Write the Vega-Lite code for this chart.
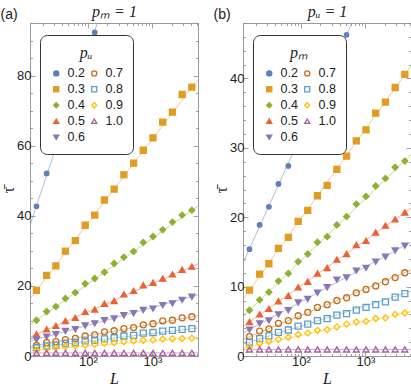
{
"$schema": "https://vega.github.io/schema/vega-lite/v6.json",
"background": "white",
"padding": {"left": 0, "top": 3, "right": 0, "bottom": 2},
"config": {
 "view": {"stroke": "#9a9a9a", "strokeWidth": 1},
 "axis": {"domain": false, "grid": false, "labelFont": "Liberation Sans", "labelFontSize": 13, "labelColor": "#222", "tickColor": "#8a8a8a", "tickWidth": 0.8, "titleFont": "Liberation Serif", "titleFontStyle": "italic", "titleFontWeight": "normal", "titleFontSize": 16, "titleColor": "#222"},
 "legend": {"orient": "none", "legendX": 10, "legendY": 12, "columns": 2, "fillColor": "white", "strokeColor": "#333", "cornerRadius": 7, "padding": 10, "titleFont": "Liberation Serif", "titleFontStyle": "italic", "titleFontSize": 16, "titleFontWeight": "normal", "titleAnchor": "middle", "titlePadding": 6, "titleColor": "#222", "labelFont": "Liberation Sans", "labelFontSize": 12.5, "labelColor": "#222", "symbolSize": 26, "symbolStrokeWidth": 1.3, "rowPadding": 3, "columnPadding": 3, "labelOffset": 5},
 "title": {"font": "Liberation Sans", "fontSize": 14, "fontWeight": "normal", "anchor": "start", "frame": "bounds", "color": "#222"}
},
"datasets": {
 "a": [
  {"s":"0.2","L":16,"t":42.7},{"s":"0.2","L":23,"t":52.1},{"s":"0.2","L":32,"t":60.5},{"s":"0.2","L":45,"t":68.5},{"s":"0.2","L":64,"t":76.5},{"s":"0.2","L":91,"t":84.5},{"s":"0.2","L":128,"t":92.3},
  {"s":"0.3","L":16,"t":18.7},{"s":"0.3","L":23,"t":23.0},{"s":"0.3","L":32,"t":25.7},{"s":"0.3","L":45,"t":29.9},{"s":"0.3","L":64,"t":32.9},{"s":"0.3","L":91,"t":37.3},{"s":"0.3","L":128,"t":40.2},{"s":"0.3","L":181,"t":44.5},{"s":"0.3","L":256,"t":47.6},{"s":"0.3","L":362,"t":51.7},{"s":"0.3","L":512,"t":55.0},{"s":"0.3","L":724,"t":58.7},{"s":"0.3","L":1024,"t":62.2},{"s":"0.3","L":1448,"t":66.7},{"s":"0.3","L":2048,"t":69.6},{"s":"0.3","L":2896,"t":74.6},{"s":"0.3","L":4096,"t":76.7},
  {"s":"0.4","L":16,"t":10.2},{"s":"0.4","L":23,"t":12.7},{"s":"0.4","L":32,"t":14.1},{"s":"0.4","L":45,"t":16.4},{"s":"0.4","L":64,"t":18.1},{"s":"0.4","L":91,"t":20.6},{"s":"0.4","L":128,"t":22.1},{"s":"0.4","L":181,"t":23.9},{"s":"0.4","L":256,"t":26.4},{"s":"0.4","L":362,"t":28.2},{"s":"0.4","L":512,"t":29.8},{"s":"0.4","L":724,"t":32.4},{"s":"0.4","L":1024,"t":34.1},{"s":"0.4","L":1448,"t":36.0},{"s":"0.4","L":2048,"t":38.2},{"s":"0.4","L":2896,"t":40.2},{"s":"0.4","L":4096,"t":41.6},
  {"s":"0.5","L":16,"t":6.2},{"s":"0.5","L":23,"t":7.6},{"s":"0.5","L":32,"t":8.6},{"s":"0.5","L":45,"t":10.0},{"s":"0.5","L":64,"t":10.9},{"s":"0.5","L":91,"t":12.6},{"s":"0.5","L":128,"t":13.3},{"s":"0.5","L":181,"t":14.9},{"s":"0.5","L":256,"t":15.7},{"s":"0.5","L":362,"t":17.6},{"s":"0.5","L":512,"t":18.6},{"s":"0.5","L":724,"t":20.2},{"s":"0.5","L":1024,"t":20.9},{"s":"0.5","L":1448,"t":22.1},{"s":"0.5","L":2048,"t":23.3},{"s":"0.5","L":2896,"t":24.6},{"s":"0.5","L":4096,"t":25.5},
  {"s":"0.6","L":16,"t":4.7},{"s":"0.6","L":23,"t":5.5},{"s":"0.6","L":32,"t":6.2},{"s":"0.6","L":45,"t":7.1},{"s":"0.6","L":64,"t":7.6},{"s":"0.6","L":91,"t":8.7},{"s":"0.6","L":128,"t":9.3},{"s":"0.6","L":181,"t":10.2},{"s":"0.6","L":256,"t":10.7},{"s":"0.6","L":362,"t":11.6},{"s":"0.6","L":512,"t":12.2},{"s":"0.6","L":724,"t":13.1},{"s":"0.6","L":1024,"t":13.5},{"s":"0.6","L":1448,"t":14.5},{"s":"0.6","L":2048,"t":15.0},{"s":"0.6","L":2896,"t":16.0},{"s":"0.6","L":4096,"t":16.9},
  {"s":"0.7","L":16,"t":3.0},{"s":"0.7","L":23,"t":3.8},{"s":"0.7","L":32,"t":4.1},{"s":"0.7","L":45,"t":4.7},{"s":"0.7","L":64,"t":5.0},{"s":"0.7","L":91,"t":5.7},{"s":"0.7","L":128,"t":6.0},{"s":"0.7","L":181,"t":6.9},{"s":"0.7","L":256,"t":7.2},{"s":"0.7","L":362,"t":7.8},{"s":"0.7","L":512,"t":8.1},{"s":"0.7","L":724,"t":8.9},{"s":"0.7","L":1024,"t":9.2},{"s":"0.7","L":1448,"t":10.0},{"s":"0.7","L":2048,"t":10.2},{"s":"0.7","L":2896,"t":10.9},{"s":"0.7","L":4096,"t":11.2},
  {"s":"0.8","L":16,"t":2.4},{"s":"0.8","L":23,"t":2.9},{"s":"0.8","L":32,"t":3.1},{"s":"0.8","L":45,"t":3.6},{"s":"0.8","L":64,"t":3.8},{"s":"0.8","L":91,"t":4.3},{"s":"0.8","L":128,"t":4.5},{"s":"0.8","L":181,"t":4.9},{"s":"0.8","L":256,"t":5.2},{"s":"0.8","L":362,"t":5.7},{"s":"0.8","L":512,"t":5.9},{"s":"0.8","L":724,"t":6.5},{"s":"0.8","L":1024,"t":6.7},{"s":"0.8","L":1448,"t":7.1},{"s":"0.8","L":2048,"t":7.3},{"s":"0.8","L":2896,"t":7.6},{"s":"0.8","L":4096,"t":7.8},
  {"s":"0.9","L":16,"t":1.7},{"s":"0.9","L":23,"t":2.1},{"s":"0.9","L":32,"t":2.3},{"s":"0.9","L":45,"t":2.7},{"s":"0.9","L":64,"t":2.9},{"s":"0.9","L":91,"t":3.1},{"s":"0.9","L":128,"t":3.3},{"s":"0.9","L":181,"t":3.6},{"s":"0.9","L":256,"t":3.8},{"s":"0.9","L":362,"t":4.1},{"s":"0.9","L":512,"t":4.3},{"s":"0.9","L":724,"t":4.5},{"s":"0.9","L":1024,"t":4.6},{"s":"0.9","L":1448,"t":4.8},{"s":"0.9","L":2048,"t":4.9},{"s":"0.9","L":2896,"t":5.0},{"s":"0.9","L":4096,"t":5.1},
  {"s":"1.0","L":16,"t":0.9},{"s":"1.0","L":23,"t":0.9},{"s":"1.0","L":32,"t":0.9},{"s":"1.0","L":45,"t":0.9},{"s":"1.0","L":64,"t":0.9},{"s":"1.0","L":91,"t":0.9},{"s":"1.0","L":128,"t":0.9},{"s":"1.0","L":181,"t":0.9},{"s":"1.0","L":256,"t":0.9},{"s":"1.0","L":362,"t":0.9},{"s":"1.0","L":512,"t":0.9},{"s":"1.0","L":724,"t":0.9},{"s":"1.0","L":1024,"t":0.9},{"s":"1.0","L":1448,"t":0.9},{"s":"1.0","L":2048,"t":0.9},{"s":"1.0","L":2896,"t":0.9},{"s":"1.0","L":4096,"t":0.9}
 ],
 "b": [
  {"s":"0.2","L":16,"t":15.4},{"s":"0.2","L":23,"t":18.9},{"s":"0.2","L":32,"t":21.5},{"s":"0.2","L":45,"t":24.8},{"s":"0.2","L":64,"t":27.4},{"s":"0.2","L":91,"t":30.4},{"s":"0.2","L":128,"t":33.5},{"s":"0.2","L":181,"t":36.6},{"s":"0.2","L":256,"t":39.8},{"s":"0.2","L":362,"t":43.0},{"s":"0.2","L":512,"t":46.3},
  {"s":"0.3","L":16,"t":9.5},{"s":"0.3","L":23,"t":11.8},{"s":"0.3","L":32,"t":13.3},{"s":"0.3","L":45,"t":15.5},{"s":"0.3","L":64,"t":17.1},{"s":"0.3","L":91,"t":19.4},{"s":"0.3","L":128,"t":21.0},{"s":"0.3","L":181,"t":23.1},{"s":"0.3","L":256,"t":24.6},{"s":"0.3","L":362,"t":26.9},{"s":"0.3","L":512,"t":28.8},{"s":"0.3","L":724,"t":31.0},{"s":"0.3","L":1024,"t":32.6},{"s":"0.3","L":1448,"t":35.0},{"s":"0.3","L":2048,"t":36.6},{"s":"0.3","L":2896,"t":38.7},{"s":"0.3","L":4096,"t":40.6},
  {"s":"0.4","L":16,"t":6.6},{"s":"0.4","L":23,"t":8.1},{"s":"0.4","L":32,"t":9.2},{"s":"0.4","L":45,"t":10.8},{"s":"0.4","L":64,"t":11.9},{"s":"0.4","L":91,"t":13.6},{"s":"0.4","L":128,"t":14.7},{"s":"0.4","L":181,"t":16.4},{"s":"0.4","L":256,"t":17.2},{"s":"0.4","L":362,"t":18.9},{"s":"0.4","L":512,"t":20.1},{"s":"0.4","L":724,"t":21.9},{"s":"0.4","L":1024,"t":23.0},{"s":"0.4","L":1448,"t":24.5},{"s":"0.4","L":2048,"t":25.6},{"s":"0.4","L":2896,"t":27.2},{"s":"0.4","L":4096,"t":28.1},
  {"s":"0.5","L":16,"t":4.9},{"s":"0.5","L":23,"t":6.0},{"s":"0.5","L":32,"t":6.8},{"s":"0.5","L":45,"t":7.9},{"s":"0.5","L":64,"t":8.7},{"s":"0.5","L":91,"t":9.9},{"s":"0.5","L":128,"t":10.7},{"s":"0.5","L":181,"t":11.9},{"s":"0.5","L":256,"t":12.7},{"s":"0.5","L":362,"t":13.9},{"s":"0.5","L":512,"t":14.7},{"s":"0.5","L":724,"t":16.0},{"s":"0.5","L":1024,"t":16.6},{"s":"0.5","L":1448,"t":17.8},{"s":"0.5","L":2048,"t":18.8},{"s":"0.5","L":2896,"t":19.7},{"s":"0.5","L":4096,"t":20.7},
  {"s":"0.6","L":16,"t":3.8},{"s":"0.6","L":23,"t":4.7},{"s":"0.6","L":32,"t":5.1},{"s":"0.6","L":45,"t":6.0},{"s":"0.6","L":64,"t":6.6},{"s":"0.6","L":91,"t":7.7},{"s":"0.6","L":128,"t":8.2},{"s":"0.6","L":181,"t":9.1},{"s":"0.6","L":256,"t":9.9},{"s":"0.6","L":362,"t":11.0},{"s":"0.6","L":512,"t":11.3},{"s":"0.6","L":724,"t":12.3},{"s":"0.6","L":1024,"t":12.7},{"s":"0.6","L":1448,"t":13.6},{"s":"0.6","L":2048,"t":14.3},{"s":"0.6","L":2896,"t":15.2},{"s":"0.6","L":4096,"t":15.9},
  {"s":"0.7","L":16,"t":2.8},{"s":"0.7","L":23,"t":3.6},{"s":"0.7","L":32,"t":3.9},{"s":"0.7","L":45,"t":4.7},{"s":"0.7","L":64,"t":5.1},{"s":"0.7","L":91,"t":5.8},{"s":"0.7","L":128,"t":6.3},{"s":"0.7","L":181,"t":7.0},{"s":"0.7","L":256,"t":7.4},{"s":"0.7","L":362,"t":8.0},{"s":"0.7","L":512,"t":8.4},{"s":"0.7","L":724,"t":9.1},{"s":"0.7","L":1024,"t":9.6},{"s":"0.7","L":1448,"t":10.1},{"s":"0.7","L":2048,"t":10.7},{"s":"0.7","L":2896,"t":11.3},{"s":"0.7","L":4096,"t":12.0},
  {"s":"0.8","L":16,"t":2.0},{"s":"0.8","L":23,"t":2.5},{"s":"0.8","L":32,"t":2.9},{"s":"0.8","L":45,"t":3.4},{"s":"0.8","L":64,"t":3.75},{"s":"0.8","L":91,"t":4.3},{"s":"0.8","L":128,"t":4.6},{"s":"0.8","L":181,"t":5.1},{"s":"0.8","L":256,"t":5.4},{"s":"0.8","L":362,"t":5.9},{"s":"0.8","L":512,"t":6.1},{"s":"0.8","L":724,"t":6.6},{"s":"0.8","L":1024,"t":7.0},{"s":"0.8","L":1448,"t":7.4},{"s":"0.8","L":2048,"t":7.8},{"s":"0.8","L":2896,"t":8.5},{"s":"0.8","L":4096,"t":9.0},
  {"s":"0.9","L":16,"t":1.35},{"s":"0.9","L":23,"t":1.8},{"s":"0.9","L":32,"t":2.1},{"s":"0.9","L":45,"t":2.4},{"s":"0.9","L":64,"t":2.7},{"s":"0.9","L":91,"t":3.1},{"s":"0.9","L":128,"t":3.3},{"s":"0.9","L":181,"t":3.7},{"s":"0.9","L":256,"t":3.8},{"s":"0.9","L":362,"t":4.2},{"s":"0.9","L":512,"t":4.6},{"s":"0.9","L":724,"t":4.9},{"s":"0.9","L":1024,"t":5.0},{"s":"0.9","L":1448,"t":5.4},{"s":"0.9","L":2048,"t":5.5},{"s":"0.9","L":2896,"t":6.0},{"s":"0.9","L":4096,"t":6.2},
  {"s":"1.0","L":16,"t":0.95},{"s":"1.0","L":23,"t":0.95},{"s":"1.0","L":32,"t":0.95},{"s":"1.0","L":45,"t":0.95},{"s":"1.0","L":64,"t":0.95},{"s":"1.0","L":91,"t":0.95},{"s":"1.0","L":128,"t":0.95},{"s":"1.0","L":181,"t":0.95},{"s":"1.0","L":256,"t":0.95},{"s":"1.0","L":362,"t":0.95},{"s":"1.0","L":512,"t":0.95},{"s":"1.0","L":724,"t":0.95},{"s":"1.0","L":1024,"t":0.95},{"s":"1.0","L":1448,"t":0.95},{"s":"1.0","L":2048,"t":0.95},{"s":"1.0","L":2896,"t":0.95},{"s":"1.0","L":4096,"t":0.95}
 ],
 "fa": [
  {"s":"0.2","L":12.7,"t":37.3},{"s":"0.2","L":5100,"t":181.3},
  {"s":"0.3","L":12.7,"t":16.3},{"s":"0.3","L":5100,"t":78.9},
  {"s":"0.4","L":12.7,"t":8.9},{"s":"0.4","L":5100,"t":42.8},
  {"s":"0.5","L":12.7,"t":5.4},{"s":"0.5","L":5100,"t":26.3},
  {"s":"0.6","L":12.7,"t":4.2},{"s":"0.6","L":5100,"t":17.4},
  {"s":"0.7","L":12.7,"t":2.7},{"s":"0.7","L":5100,"t":11.5},
  {"s":"0.8","L":12.7,"t":2.2},{"s":"0.8","L":5100,"t":8.0},
  {"s":"0.9","L":12.7,"t":1.55},{"s":"0.9","L":5100,"t":5.25},
  {"s":"1.0","L":12.7,"t":0.9},{"s":"1.0","L":5100,"t":0.9}
 ],
 "fb": [
  {"s":"0.2","L":12.7,"t":13.4},{"s":"0.2","L":5100,"t":66.8},
  {"s":"0.3","L":12.7,"t":8.2},{"s":"0.3","L":5100,"t":41.8},
  {"s":"0.4","L":12.7,"t":5.7},{"s":"0.4","L":5100,"t":29.0},
  {"s":"0.5","L":12.7,"t":4.25},{"s":"0.5","L":5100,"t":21.3},
  {"s":"0.6","L":12.7,"t":3.3},{"s":"0.6","L":5100,"t":16.4},
  {"s":"0.7","L":12.7,"t":2.4},{"s":"0.7","L":5100,"t":12.4},
  {"s":"0.8","L":12.7,"t":1.7},{"s":"0.8","L":5100,"t":9.3},
  {"s":"0.9","L":12.7,"t":1.15},{"s":"0.9","L":5100,"t":6.4},
  {"s":"1.0","L":12.7,"t":0.95},{"s":"1.0","L":5100,"t":0.95}
 ]
},
"spacing": 14,
"resolve": {"scale": {"color": "independent", "fill": "independent", "stroke": "independent", "shape": "independent"}},
"hconcat": [
 {
  "width": 168, "height": 333,
  "title": {"text": "(a)", "offset": -18},
  "resolve": {"axis": {"x": "independent", "y": "independent"}},
  "layer": [
   {"data": {"name": "fa"},
    "mark": {"type": "line", "clip": true, "strokeWidth": 1, "opacity": 0.5},
    "encoding": {
     "x": {"field": "L", "type": "quantitative", "scale": {"type": "log", "domain": [12.7, 5100], "nice": false},
       "axis": {"title": "L", "values": [20,30,40,50,60,70,80,90,100,200,300,400,500,600,700,800,900,1000,2000,3000,4000,5000], "labelExpr": "datum.value == 100 ? '10²' : (datum.value == 1000 ? '10³' : '')", "tickSize": {"condition": {"test": "datum.value == 100 || datum.value == 1000", "value": -5}, "value": -2.5}, "labelPadding": 4, "titlePadding": 2}},
     "y": {"field": "t", "type": "quantitative", "scale": {"domain": [0, 95], "nice": false, "zero": false},
       "axis": {"title": "τ̄", "titleFontStyle": "normal", "values": [0,5,10,15,20,25,30,35,40,45,50,55,60,65,70,75,80,85,90,95], "labelExpr": "datum.value % 20 == 0 ? datum.label : ''", "tickSize": {"condition": {"test": "datum.value % 20 == 0", "value": -5}, "value": -2.5}, "labelPadding": 4, "titlePadding": 0}},
     "color": {"field": "s", "type": "nominal", "scale": {"range": ["#5E81B5","#E19C24","#8FB032","#EB6235","#8778B3","#C56E1A","#5D9EC7","#FFBF00","#A5609D"]}, "legend": null}
    }},
   {"data": {"name": "a"},
    "mark": {"type": "point", "clip": true, "opacity": 1, "strokeWidth": 1.3},
    "encoding": {
     "x": {"field": "L", "type": "quantitative", "scale": {"type": "log", "domain": [12.7, 5100], "nice": false},
       "axis": {"orient": "top", "title": "pₘ = 1", "titleFontStyle": "italic", "labels": false, "values": [20,30,40,50,60,70,80,90,100,200,300,400,500,600,700,800,900,1000,2000,3000,4000,5000], "tickSize": {"condition": {"test": "datum.value == 100 || datum.value == 1000", "value": -5}, "value": -2.5}, "titlePadding": 3}},
     "y": {"field": "t", "type": "quantitative", "scale": {"domain": [0, 95], "nice": false, "zero": false},
       "axis": {"orient": "right", "title": null, "labels": false, "values": [0,5,10,15,20,25,30,35,40,45,50,55,60,65,70,75,80,85,90,95], "tickSize": {"condition": {"test": "datum.value % 20 == 0", "value": -5}, "value": -2.5}}},
     "shape": {"field": "s", "type": "nominal", "title": "pᵤ", "scale": {"domain": ["0.2","0.3","0.4","0.5","0.6","0.7","0.8","0.9","1.0"], "range": ["circle","square","diamond","triangle-up","triangle-down","circle","square","diamond","triangle-up"]}},
     "fill": {"field": "s", "type": "nominal", "title": "pᵤ", "scale": {"domain": ["0.2","0.3","0.4","0.5","0.6","0.7","0.8","0.9","1.0"], "range": ["#5E81B5","#E19C24","#8FB032","#EB6235","#8778B3","transparent","transparent","transparent","transparent"]}},
     "stroke": {"field": "s", "type": "nominal", "title": "pᵤ", "scale": {"domain": ["0.2","0.3","0.4","0.5","0.6","0.7","0.8","0.9","1.0"], "range": ["#5E81B5","#E19C24","#8FB032","#EB6235","#8778B3","#C56E1A","#5D9EC7","#FFBF00","#A5609D"]}},
     "size": {"condition": {"test": "datum.s == '0.2'", "value": 20}, "value": 36}
    }}
  ]
 },
 {
  "width": 168, "height": 333,
  "title": {"text": "(b)", "offset": -18},
  "resolve": {"axis": {"x": "independent", "y": "independent"}},
  "layer": [
   {"data": {"name": "fb"},
    "mark": {"type": "line", "clip": true, "strokeWidth": 1, "opacity": 0.5},
    "encoding": {
     "x": {"field": "L", "type": "quantitative", "scale": {"type": "log", "domain": [12.7, 5100], "nice": false},
       "axis": {"title": "L", "values": [20,30,40,50,60,70,80,90,100,200,300,400,500,600,700,800,900,1000,2000,3000,4000,5000], "labelExpr": "datum.value == 100 ? '10²' : (datum.value == 1000 ? '10³' : '')", "tickSize": {"condition": {"test": "datum.value == 100 || datum.value == 1000", "value": -5}, "value": -2.5}, "labelPadding": 4, "titlePadding": 2}},
     "y": {"field": "t", "type": "quantitative", "scale": {"domain": [0, 48], "nice": false, "zero": false},
       "axis": {"title": "τ̄", "titleFontStyle": "normal", "values": [0,2,4,6,8,10,12,14,16,18,20,22,24,26,28,30,32,34,36,38,40,42,44,46,48], "labelExpr": "datum.value % 10 == 0 ? datum.label : ''", "tickSize": {"condition": {"test": "datum.value % 10 == 0", "value": -5}, "value": -2.5}, "labelPadding": 4, "titlePadding": 0}},
     "color": {"field": "s", "type": "nominal", "scale": {"range": ["#5E81B5","#E19C24","#8FB032","#EB6235","#8778B3","#C56E1A","#5D9EC7","#FFBF00","#A5609D"]}, "legend": null}
    }},
   {"data": {"name": "b"},
    "mark": {"type": "point", "clip": true, "opacity": 1, "strokeWidth": 1.3},
    "encoding": {
     "x": {"field": "L", "type": "quantitative", "scale": {"type": "log", "domain": [12.7, 5100], "nice": false},
       "axis": {"orient": "top", "title": "pᵤ = 1", "titleFontStyle": "italic", "labels": false, "values": [20,30,40,50,60,70,80,90,100,200,300,400,500,600,700,800,900,1000,2000,3000,4000,5000], "tickSize": {"condition": {"test": "datum.value == 100 || datum.value == 1000", "value": -5}, "value": -2.5}, "titlePadding": 3}},
     "y": {"field": "t", "type": "quantitative", "scale": {"domain": [0, 48], "nice": false, "zero": false},
       "axis": {"orient": "right", "title": null, "labels": false, "values": [0,2,4,6,8,10,12,14,16,18,20,22,24,26,28,30,32,34,36,38,40,42,44,46,48], "tickSize": {"condition": {"test": "datum.value % 10 == 0", "value": -5}, "value": -2.5}}},
     "shape": {"field": "s", "type": "nominal", "title": "pₘ", "scale": {"domain": ["0.2","0.3","0.4","0.5","0.6","0.7","0.8","0.9","1.0"], "range": ["circle","square","diamond","triangle-up","triangle-down","circle","square","diamond","triangle-up"]}},
     "fill": {"field": "s", "type": "nominal", "title": "pₘ", "scale": {"domain": ["0.2","0.3","0.4","0.5","0.6","0.7","0.8","0.9","1.0"], "range": ["#5E81B5","#E19C24","#8FB032","#EB6235","#8778B3","transparent","transparent","transparent","transparent"]}},
     "stroke": {"field": "s", "type": "nominal", "title": "pₘ", "scale": {"domain": ["0.2","0.3","0.4","0.5","0.6","0.7","0.8","0.9","1.0"], "range": ["#5E81B5","#E19C24","#8FB032","#EB6235","#8778B3","#C56E1A","#5D9EC7","#FFBF00","#A5609D"]}},
     "size": {"condition": {"test": "datum.s == '0.2'", "value": 20}, "value": 36}
    }}
  ]
 }
]
}
